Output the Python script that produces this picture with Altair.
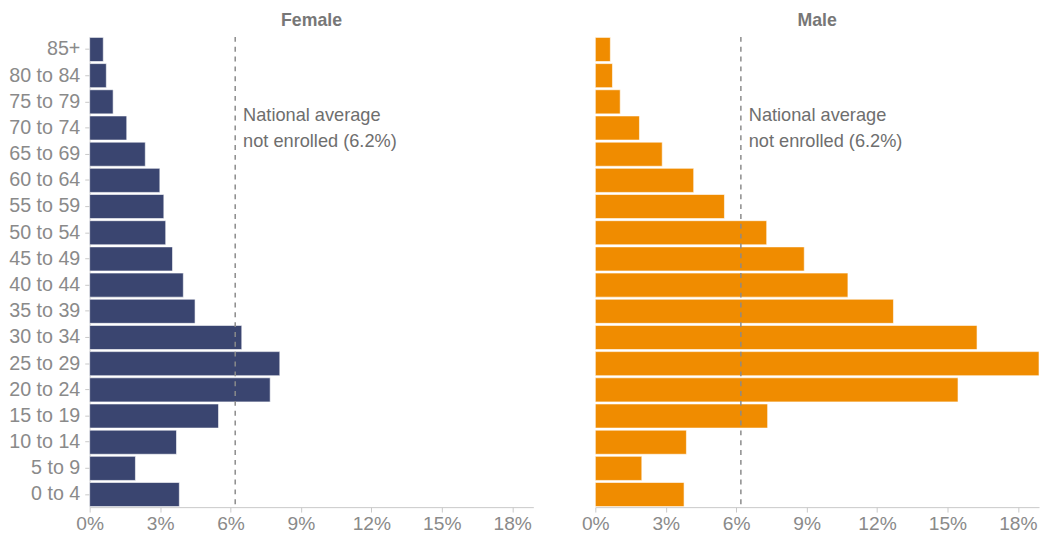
import altair as alt
import pandas as pd

ages = ["85+", "80 to 84", "75 to 79", "70 to 74", "65 to 69", "60 to 64", "55 to 59",
        "50 to 54", "45 to 49", "40 to 44", "35 to 39", "30 to 34", "25 to 29",
        "20 to 24", "15 to 19", "10 to 14", "5 to 9", "0 to 4"]
female = [0.58, 0.71, 1.0, 1.58, 2.37, 2.99, 3.16, 3.24, 3.53, 3.99, 4.49, 6.48, 8.1,
          7.69, 5.49, 3.7, 1.95, 3.82]
male = [0.64, 0.73, 1.06, 1.88, 2.85, 4.19, 5.5, 7.3, 8.9, 10.76, 12.7, 16.26, 18.9,
        15.45, 7.34, 3.88, 1.98, 3.78]
national_avg = 6.2
annot = ["National average", "not enrolled (6.2%)"]
x_ticks = [0, 3, 6, 9, 12, 15, 18]

FONT = "Liberation Sans"
W, H = 451, 478

def panel(title, values, color, show_y):
    df = pd.DataFrame({"age": ages, "value": values})
    ref = pd.DataFrame({"avg": [national_avg], "age": ["75 to 79"]})
    xenc = alt.X("value:Q", scale=alt.Scale(domain=[0, 18.9], nice=False),
                 axis=alt.Axis(values=x_ticks, labelExpr="datum.value + '%'", title=None,
                               grid=False, domainColor="#c8c8c8", tickColor="#c8c8c8",
                               tickSize=5, labelPadding=3, labelFontSize=19.5,
                               labelFlush=False, labelColor="#8a8a8a", labelFont=FONT))
    if show_y:
        yaxis = alt.Axis(title=None, domainColor="#c8c8c8", tickColor="#c8c8c8", tickSize=5,
                         labelPadding=5, labelFontSize=20, labelColor="#8a8a8a",
                         labelFont=FONT)
    else:
        yaxis = None
    yenc = alt.Y("age:N", sort=ages,
                 scale=alt.Scale(paddingInner=0.08, paddingOuter=0.02), axis=yaxis)
    bars = alt.Chart(df).mark_bar(color=color, stroke="white", strokeOpacity=0.6,
                                  strokeWidth=1).encode(x=xenc, y=yenc)
    rule = alt.Chart(ref).mark_rule(color="#8a8a8a", strokeDash=[5, 5], strokeWidth=1.5).encode(
        x="avg:Q")
    text = alt.Chart(ref).mark_text(align="left", baseline="middle", dx=8, dy=13, fontSize=18.5,
                                    lineHeight=27, color="#6e6e6e", font=FONT).encode(
        x="avg:Q", y=alt.Y("age:N", sort=ages), text=alt.value(annot))
    return alt.layer(bars, rule, text).properties(
        width=W, height=H,
        title=alt.TitleParams(title, fontSize=18, fontWeight="bold", color="#777777",
                              font=FONT, anchor="middle", offset=6))

left = panel("Female", female, "#3a4570", True)
right = panel("Male", male, "#f08c00", False)

chart = alt.hconcat(left, right, spacing=48).properties(padding=0).configure_view(
    stroke=None).configure_axis(labelFont=FONT)

chart.save("out.html", embed_options={"renderer": "svg", "actions": False})
